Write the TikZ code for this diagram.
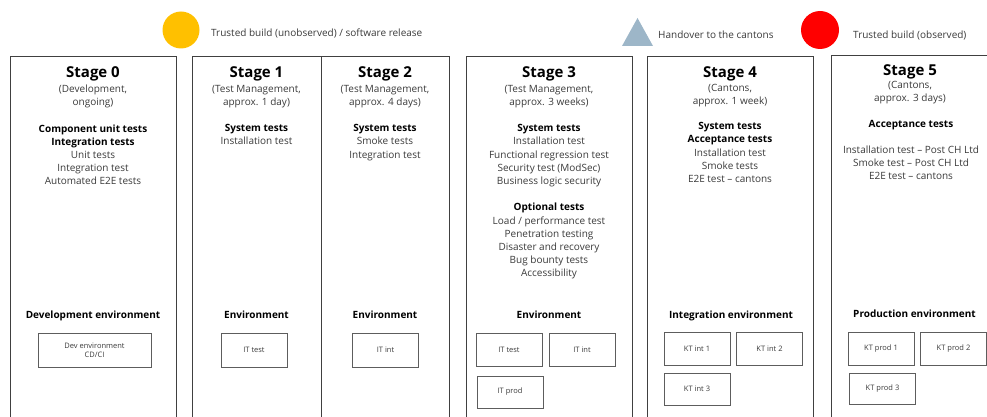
\documentclass[tikz,border=0pt]{standalone}
\usepackage{fontspec}
\setmainfont{Open Sans}
\definecolor{boxline}{HTML}{404040}
\definecolor{bodytext}{HTML}{3A3A3A}
\definecolor{buildyellow}{HTML}{FFC000}
\definecolor{buildred}{HTML}{FF0000}
\definecolor{handover}{HTML}{9DB6C8}
\newcommand{\testhead}[1]{{\color{black}\bfseries #1}}
\begin{document}
\begin{tikzpicture}[x=1pt,y=-1pt,
    stagebox/.style={draw=boxline,line width=0.9pt},
    stagetitle/.style={anchor=base,inner sep=0pt,font=\fontsize{15}{18}\selectfont\bfseries},
    stagetext/.style={anchor=north,yshift=9.24pt,inner sep=0pt,align=center,text=bodytext,font=\fontsize{10}{13.2}\selectfont,execute at begin node=\strut},
    envtitle/.style={anchor=base,inner sep=0pt,font=\fontsize{10}{13}\selectfont\bfseries},
    envbox/.style={draw=boxline!85,line width=0.7pt,minimum width=66pt,minimum height=33pt,inner sep=1pt,align=center,text=bodytext,font=\fontsize{7.5}{9}\selectfont},
    legendtext/.style={anchor=west,inner sep=0pt,text=bodytext,font=\fontsize{10}{12}\selectfont}]
                        \useasboundingbox (0.000000,0.000000) rectangle (987.000000,417.000000);
                        \clip (0.000000,0.000000) rectangle (987.000000,417.000000);

                        % Drawing legend markers
                        \fill [buildyellow] (181.000000,30.000000) circle (18.5);%
                        \fill [handover] (622.000000,46.000000) -- (653.000000,46.000000) -- (637.500000,18.000000) -- cycle;%
                        \fill [buildred] (820.000000,30.000000) circle (19.0);%

                        % Marking legend texts
                        \draw (211.000000,33.000000) node (unobserved) [legendtext] {Trusted build (unobserved) / software release};%
                        \draw (658.000000,35.000000) node (handover) [legendtext] {Handover to the cantons};%
                        \draw (853.000000,35.000000) node (observed) [legendtext] {Trusted build (observed)};%

                        % Drawing stage boxes
                        \draw [stagebox] (10.000000,56.000000) rectangle (176.000000,430.000000);%
                        \draw [stagebox] (192.000000,56.000000) rectangle (321.000000,430.000000);%
                        \draw [stagebox] (321.000000,56.000000) rectangle (449.000000,430.000000);%
                        \draw [stagebox] (466.000000,56.000000) rectangle (632.000000,430.000000);%
                        \draw [stagebox] (647.000000,56.000000) rectangle (813.000000,430.000000);%
                        \draw [stagebox] (831.000000,55.000000) rectangle (1000.000000,430.000000);%

                        % Marking Stage 0
                        \draw (93.000000,78.000000) node (stagezero) [stagetitle] {Stage 0};%
                        \draw (93.000000,94.000000) node (zerosub) [stagetext] {(Development,\\ ongoing)};%
                        \draw (93.000000,133.500000) node (zerotests) [stagetext] {\testhead{Component unit tests}\\ \testhead{Integration tests}\\ Unit tests\\ Integration test\\ Automated E2E tests};%
                        \draw (93.000000,318.000000) node (zeroenv) [envtitle] {Development environment};%
                        \draw (94.500000,350.000000) node (devenv) [envbox, minimum width=113pt, minimum height=34pt] {Dev environment\\ CD/CI};%

                        % Marking Stage 1
                        \draw (256.500000,78.000000) node (stageone) [stagetitle] {Stage 1};%
                        \draw (256.500000,94.000000) node (onesub) [stagetext] {(Test Management,\\ approx. 1 day)};%
                        \draw (256.500000,133.500000) node (onetests) [stagetext] {\testhead{System tests}\\ Installation test};%
                        \draw (256.500000,318.000000) node (oneenv) [envtitle] {Environment};%
                        \draw (254.000000,350.000000) node (onetest) [envbox, minimum height=34pt] {IT test};%

                        % Marking Stage 2
                        \draw (385.000000,78.000000) node (stagetwo) [stagetitle] {Stage 2};%
                        \draw (385.000000,94.000000) node (twosub) [stagetext] {(Test Management,\\ approx. 4 days)};%
                        \draw (385.000000,133.500000) node (twotests) [stagetext] {\testhead{System tests}\\ Smoke tests\\ Integration test};%
                        \draw (385.000000,318.000000) node (twoenv) [envtitle] {Environment};%
                        \draw (385.500000,350.000000) node (twoint) [envbox, minimum height=34pt] {IT int};%

                        % Marking Stage 3
                        \draw (549.000000,78.000000) node (stagethree) [stagetitle] {Stage 3};%
                        \draw (549.000000,94.000000) node (threesub) [stagetext] {(Test Management,\\ approx. 3 weeks)};%
                        \draw (549.000000,133.500000) node (threetests) [stagetext] {\testhead{System tests}\\ Installation test\\ Functional regression test\\ Security test (ModSec)\\ Business logic security\\[13.2pt] \testhead{Optional tests}\\ Load / performance test\\ Penetration testing\\ Disaster and recovery\\ Bug bounty tests\\ Accessibility};%
                        \draw (549.000000,318.000000) node (threeenv) [envtitle] {Environment};%
                        \draw (509.000000,349.500000) node (threetest) [envbox] {IT test};%
                        \draw (582.000000,349.500000) node (threeint) [envbox] {IT int};%
                        \draw (510.000000,392.000000) node (threeprod) [envbox, minimum height=32pt] {IT prod};%

                        % Marking Stage 4
                        \draw (730.000000,78.000000) node (stagefour) [stagetitle] {Stage 4};%
                        \draw (730.000000,93.000000) node (foursub) [stagetext] {(Cantons,\\ approx. 1 week)};%
                        \draw (730.000000,131.500000) node (fourtests) [stagetext] {\testhead{System tests}\\ \testhead{Acceptance tests}\\ Installation test\\ Smoke tests\\ E2E test – cantons};%
                        \draw (731.000000,318.000000) node (fourenv) [envtitle] {Integration environment};%
                        \draw (697.000000,348.500000) node (ktintone) [envbox] {KT int 1};%
                        \draw (769.500000,348.500000) node (ktinttwo) [envbox] {KT int 2};%
                        \draw (697.000000,389.000000) node (ktintthree) [envbox, minimum height=32pt] {KT int 3};%

                        % Marking Stage 5
                        \draw (910.000000,76.000000) node (stagefive) [stagetitle] {Stage 5};%
                        \draw (910.000000,90.000000) node (fivesub) [stagetext] {(Cantons,\\ approx. 3 days)};%
                        \draw (911.000000,129.000000) node (fivetests) [stagetext] {\testhead{Acceptance tests}\\[13.2pt] Installation test – Post CH Ltd\\ Smoke test – Post CH Ltd\\ E2E test – cantons};%
                        \draw (914.500000,317.000000) node (fiveenv) [envtitle] {Production environment};%
                        \draw (881.000000,348.500000) node (ktprodone) [envbox] {KT prod 1};%
                        \draw (953.500000,348.500000) node (ktprodtwo) [envbox] {KT prod 2};%
                        \draw (882.500000,388.500000) node (ktprodthree) [envbox, minimum height=31pt] {KT prod 3};%
                    \end{tikzpicture}
\end{document}
